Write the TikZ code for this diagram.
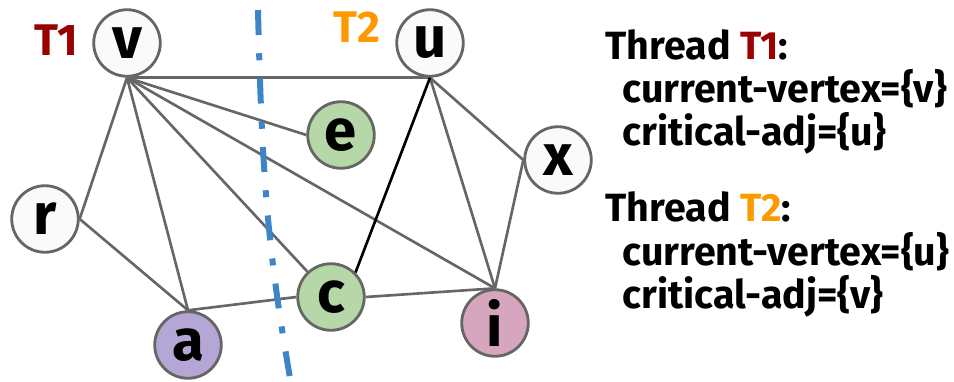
\documentclass[tikz,border=0pt]{standalone}
\usepackage{fontspec}
\setmainfont{Fira Sans}
\usetikzlibrary{positioning}

\definecolor{edgegray}{HTML}{666666}
\definecolor{nodewhite}{HTML}{FAFAFA}
\definecolor{nodegreen}{HTML}{B6D7A8}
\definecolor{nodepurple}{HTML}{B4A7D6}
\definecolor{nodepink}{HTML}{D5A6BD}
\definecolor{cutblue}{HTML}{3D85C6}
\definecolor{tone}{HTML}{990000}
\definecolor{ttwo}{HTML}{FF9900}

\begin{document}
\begin{tikzpicture}[x=0.01cm,y=-0.01cm]

\tikzset{vertex/.style={
		circle,
		draw=edgegray, line width=0.8pt,
		fill=#1,
		minimum size=0.665cm,
		inner sep=0pt,
		font=\fontsize{16.5}{16.5}\selectfont\bfseries
	},
	vertex/.default=nodewhite,
	edge/.style={edgegray, line width=0.75pt},
	thread/.style={font=\fontsize{12.6}{12.6}\selectfont\bfseries},
	info/.style={anchor=base west, inner sep=0pt,
		font=\fontsize{11.2}{13}\selectfont\bfseries}
}
\useasboundingbox (0,0) rectangle (954,382);

% the graph
\node[vertex] (v) at (127,43) {v};
\node[vertex] (u) at (430,43) {u};
\node[vertex=nodegreen] (e) at (341,135) {e};
\node[vertex] (r) at (45,219) {r};
\node[vertex] (x) at (558,160) {x};
\node[vertex=nodepurple] (a) at (188,345) {a};
\node[vertex=nodegreen] (c) at (331,297) {c};
\node[vertex=nodepink] (i) at (495,323) {i};

\node[thread, text=tone] (lone) at (56,40) {T1};
\node[thread, text=ttwo] (ltwo) at (357,27) {T2};

\draw[edge] (v.south) -- (u.south);
\draw[edge] (v.south) -- (r.east);
\draw[edge] (r.east) -- (a.north);
\draw[edge] (v.south) -- (a.north);
\draw[edge] (v.south) -- (c);
\draw[edge] (v.south) -- (e.west);
\draw[edge] (v.south) -- (i.north);
\draw[edge] (u.south) -- (i.north);
\draw[edge] (u.south) -- (x.west);
\draw[edge] (x.west) -- (i.north);
\draw[edge] (a.north) -- (c.west);
\draw[edge] (c.east) -- (i.north);
\draw[line width=0.75pt] (u.south) -- (c.north east);

% the cut between the threads
\coordinate (cuttop) at (258,10);
\coordinate (cutbot) at (290,378);
\draw[cutblue, line width=1.7pt, dash pattern=on 7.1pt off 5.2pt on 2pt off 5.2pt]
	(cuttop) .. controls (262,180) and (268,250) .. (cutbot);

% thread state
\node[info] (tonehead) at (605,60) {Thread \textcolor{tone}{T1}:};
\node[info] (tonecur) at (622,103) {current-vertex=\{v\}};
\node[info] (toneadj) at (622,146) {critical-adj=\{u\}};
\node[info] (ttwohead) at (605,222) {Thread \textcolor{ttwo}{T2}:};
\node[info] (ttwocur) at (622,265) {current-vertex=\{u\}};
\node[info] (ttwoadj) at (622,308) {critical-adj=\{v\}};
\end{tikzpicture}
\end{document}
